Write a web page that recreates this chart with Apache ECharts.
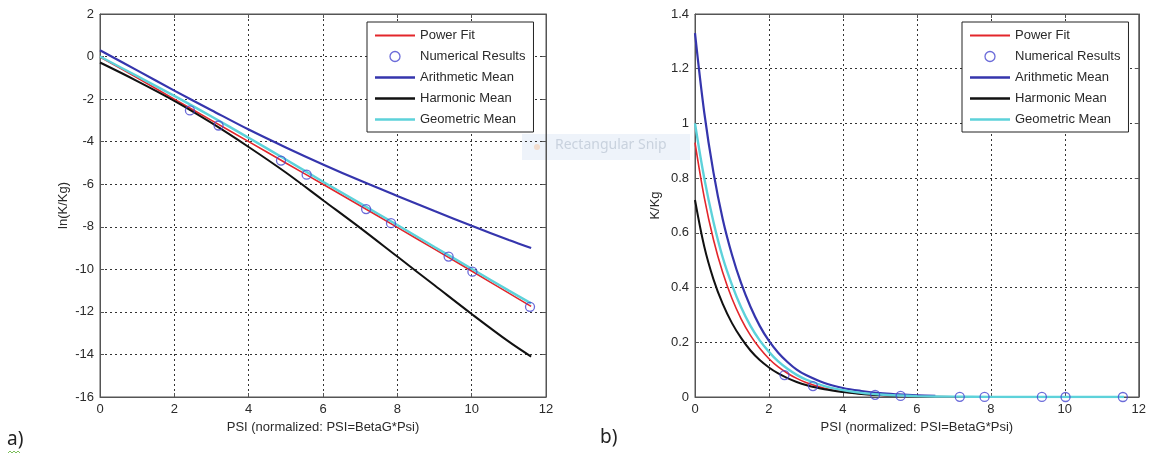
<!DOCTYPE html>
<html>
<head>
<meta charset="utf-8">
<script src="https://cdn.jsdelivr.net/npm/echarts@6/dist/echarts.min.js"></script>
<style>
html,body{margin:0;padding:0;background:#fff;}
#c{width:1149px;height:457px;}
</style>
</head>
<body>
<div id="c"></div>
<script>
// ---------- data ----------
const seriesNames = ['Power Fit','Numerical Results','Arithmetic Mean','Harmonic Mean','Geometric Mean'];
const xTicksMax = 12;

// panel a) ln(K/Kg)
const psiA = [0,1,2,3,4,5,6,7,8,9,10,11,11.6];
const lnPowerFit = [-0.02,-1.0,-2.0,-3.0,-4.0,-5.0,-6.0,-7.01,-8.03,-9.05,-10.08,-11.12,-11.74];
const lnArithmetic = [0.3,-0.65,-1.6,-2.52,-3.43,-4.27,-5.07,-5.83,-6.55,-7.26,-7.95,-8.62,-9.0];
const lnHarmonic = [-0.28,-1.15,-2.08,-3.12,-4.25,-5.45,-6.75,-8.05,-9.4,-10.75,-12.1,-13.4,-14.1];
const lnGeometric = [0.0,-0.92,-1.85,-2.82,-3.82,-4.84,-5.88,-6.9,-7.92,-8.95,-9.97,-11.0,-11.6];

// numerical results (both panels)
const psiPts = [2.42,3.19,4.87,5.56,7.16,7.83,9.38,10.02,11.57];
const lnPts = [-2.53,-3.24,-4.89,-5.55,-7.17,-7.83,-9.40,-10.11,-11.76];
const ratioPts = [0.080,0.040,0.008,0.004,0.0008,0.0004,0.0001,0.00004,0.00001];

// panel b) K/Kg
const psiB = [0,0.25,0.5,0.75,1,1.25,1.5,1.75,2,2.25,2.5,2.75,3,3.5,4,4.5,5,5.5,6,7,8,9,10,11,11.6];
const kPowerFit = [0.93,0.73,0.575,0.455,0.36,0.285,0.225,0.178,0.14,0.11,0.087,0.068,0.053,0.032,0.019,0.0115,0.007,0.0042,0.0025,0.0009,0.0003,0.0001,0.00004,0.00002,0.00001];
const kGeometric = [1.0,0.8,0.64,0.51,0.41,0.327,0.26,0.207,0.165,0.13,0.103,0.081,0.064,0.04,0.025,0.015,0.009,0.0055,0.0033,0.0012,0.0004,0.00013,0.00005,0.00002,0.00001];
const psiBArith = [0,0.25,0.5,0.75,1,1.25,1.5,1.75,2,2.25,2.5,2.75,3,3.5,4,4.5,5,5.5,6,6.5];
const kArithmetic = [1.33,1.04,0.82,0.65,0.52,0.415,0.33,0.26,0.205,0.162,0.128,0.1,0.08,0.051,0.033,0.022,0.014,0.0095,0.0063,0.0045];
const psiBHarm = [0,0.25,0.5,0.75,1,1.25,1.5,1.75,2,2.25,2.5,2.75,3,3.5,4,4.5,5,5.5];
const kHarmonic = [0.72,0.55,0.43,0.34,0.27,0.215,0.17,0.135,0.108,0.086,0.069,0.055,0.044,0.028,0.018,0.011,0.007,0.004];

// ---------- helpers ----------
const zip = (xs, ys) => xs.map((x, i) => [x, ys[i]]);
const FONT = "'Liberation Sans', Arial, Helvetica, sans-serif";
const COL = {power:'#e3262b', pts:'#4646cf', arith:'#3535ad', harm:'#111111', geo:'#5dd2da'};
const TXT = '#2a2a2a';

function mainX(gi){
  return {
    type:'value', gridIndex:gi, min:0, max:xTicksMax, interval:2,
    name:'PSI (normalized: PSI=BetaG*Psi)', nameLocation:'middle', nameGap:24,
    nameTextStyle:{fontFamily:FONT,fontSize:13,color:TXT},
    axisLine:{show:true,onZero:false,lineStyle:{color:'#555',width:1}},
    axisTick:{show:true,inside:true,length:4,lineStyle:{color:'#555'}},
    axisLabel:{fontFamily:FONT,fontSize:13,color:TXT,margin:6},
    splitLine:{show:true,lineStyle:{type:[2,3],color:'#333',width:1}}
  };
}
function topX(gi){
  return {type:'value', gridIndex:gi, position:'top', min:0, max:xTicksMax, interval:2,
    axisLine:{show:true,onZero:false,lineStyle:{color:'#555'}},
    axisTick:{show:true,inside:true,length:4,lineStyle:{color:'#555'}},
    axisLabel:{show:false}, splitLine:{show:false}};
}
function mainY(gi, min, max, interval, name, gap){
  return {
    type:'value', gridIndex:gi, min:min, max:max, interval:interval,
    name:name, nameLocation:'middle', nameGap:gap,
    nameTextStyle:{fontFamily:FONT,fontSize:13,color:TXT},
    axisLine:{show:true,onZero:false,lineStyle:{color:'#555',width:1}},
    axisTick:{show:true,inside:true,length:4,lineStyle:{color:'#555'}},
    axisLabel:{fontFamily:FONT,fontSize:13,color:TXT,margin:6},
    splitLine:{show:true,lineStyle:{type:[2,3],color:'#333',width:1}}
  };
}
function rightY(gi, min, max, interval){
  return {type:'value', gridIndex:gi, position:'right', min:min, max:max, interval:interval,
    axisLine:{show:true,onZero:false,lineStyle:{color:'#555'}},
    axisTick:{show:true,inside:true,length:4,lineStyle:{color:'#555'}},
    axisLabel:{show:false}, splitLine:{show:false}};
}
function lineSeries(name, data, color, width, xi, yi, z){
  return {name:name, type:'line', xAxisIndex:xi, yAxisIndex:yi, data:data,
    showSymbol:false, symbol:'none', smooth:0.35, z:z,
    lineStyle:{color:color,width:width}, itemStyle:{color:color}};
}
function ptsSeries(data, xi, yi){
  return {name:'Numerical Results', type:'scatter', xAxisIndex:xi, yAxisIndex:yi, data:data,
    symbol:'circle', symbolSize:9, z:10,
    itemStyle:{color:'transparent', borderColor:COL.pts, borderWidth:1.3}};
}
function legend(left){
  return {
    left:left, top:22, orient:'vertical',
    backgroundColor:'#fff', borderColor:'#222', borderWidth:1,
    padding:[7,8,6,8], itemGap:8, itemWidth:40, itemHeight:10,
    selectedMode:false,
    textStyle:{fontFamily:FONT,fontSize:13,color:TXT},
    data:[
      {name:'Power Fit', icon:'path://M0,0H40V2H0Z', itemStyle:{color:COL.power}},
      {name:'Numerical Results', icon:'circle', itemStyle:{color:'transparent',borderColor:COL.pts,borderWidth:1.3}},
      {name:'Arithmetic Mean', icon:'path://M0,0H40V2.6H0Z', itemStyle:{color:COL.arith}},
      {name:'Harmonic Mean', icon:'path://M0,0H40V2.6H0Z', itemStyle:{color:COL.harm}},
      {name:'Geometric Mean', icon:'path://M0,0H40V2.6H0Z', itemStyle:{color:COL.geo}}
    ]
  };
}

const chart = echarts.init(document.getElementById('c'), null, {renderer:'canvas'});
chart.setOption({
  animation:false,
  backgroundColor:'#fff',
  grid:[
    {left:100, top:14, width:446, height:383, show:true, borderColor:'#555', borderWidth:1, backgroundColor:'transparent'},
    {left:695, top:14, width:446, height:383, show:true, borderColor:'#555', borderWidth:1, backgroundColor:'transparent'}
  ],
  xAxis:[mainX(0), topX(0), mainX(1), topX(1)],
  yAxis:[
    mainY(0,-16,2,2,'ln(K/Kg)',30), rightY(0,-16,2,2),
    mainY(1,0,1.4,0.2,'K/Kg',33), rightY(1,0,1.4,0.2)
  ],
  legend:[legend(367), legend(962)],
  series:[
    lineSeries('Power Fit', zip(psiA, lnPowerFit), COL.power, 1.6, 0, 0, 2),
    lineSeries('Arithmetic Mean', zip(psiA, lnArithmetic), COL.arith, 2.2, 0, 0, 3),
    lineSeries('Harmonic Mean', zip(psiA, lnHarmonic), COL.harm, 2.0, 0, 0, 3),
    lineSeries('Geometric Mean', zip(psiA, lnGeometric), COL.geo, 2.4, 0, 0, 4),
    ptsSeries(zip(psiPts, lnPts), 0, 0),
    lineSeries('Power Fit', zip(psiB, kPowerFit), COL.power, 1.6, 2, 2, 2),
    lineSeries('Arithmetic Mean', zip(psiBArith, kArithmetic), COL.arith, 2.2, 2, 2, 3),
    lineSeries('Harmonic Mean', zip(psiBHarm, kHarmonic), COL.harm, 2.0, 2, 2, 3),
    lineSeries('Geometric Mean', zip(psiB, kGeometric), COL.geo, 2.4, 2, 2, 4),
    ptsSeries(zip(psiPts, ratioPts), 2, 2)
  ],
  graphic:[
    {type:'rect', z:-10, shape:{x:522,y:134,width:168,height:26}, style:{fill:'#eef3fa'}},
    {type:'circle', z:-9, shape:{cx:537,cy:147,r:3}, style:{fill:'#f2dccd'}},
    {type:'text', z:-9, left:555, top:138, style:{text:'Rectangular Snip', fontFamily:"'Noto Sans', sans-serif", fontSize:14, fill:'#c9d2de'}},
    {type:'text', left:7, top:430, style:{text:'a)', fontFamily:"'Noto Sans', sans-serif", fontSize:19, fill:'#222'}},
    {type:'text', left:600, top:428, style:{text:'b)', fontFamily:"'Noto Sans', sans-serif", fontSize:19, fill:'#222'}},
    {type:'polyline', shape:{points:[[8,453],[10,451],[12,453],[14,451],[16,453],[18,451],[20,453]]}, style:{stroke:'#7bbf5a', lineWidth:1, fill:null}}
  ]
});
</script>
</body>
</html>
